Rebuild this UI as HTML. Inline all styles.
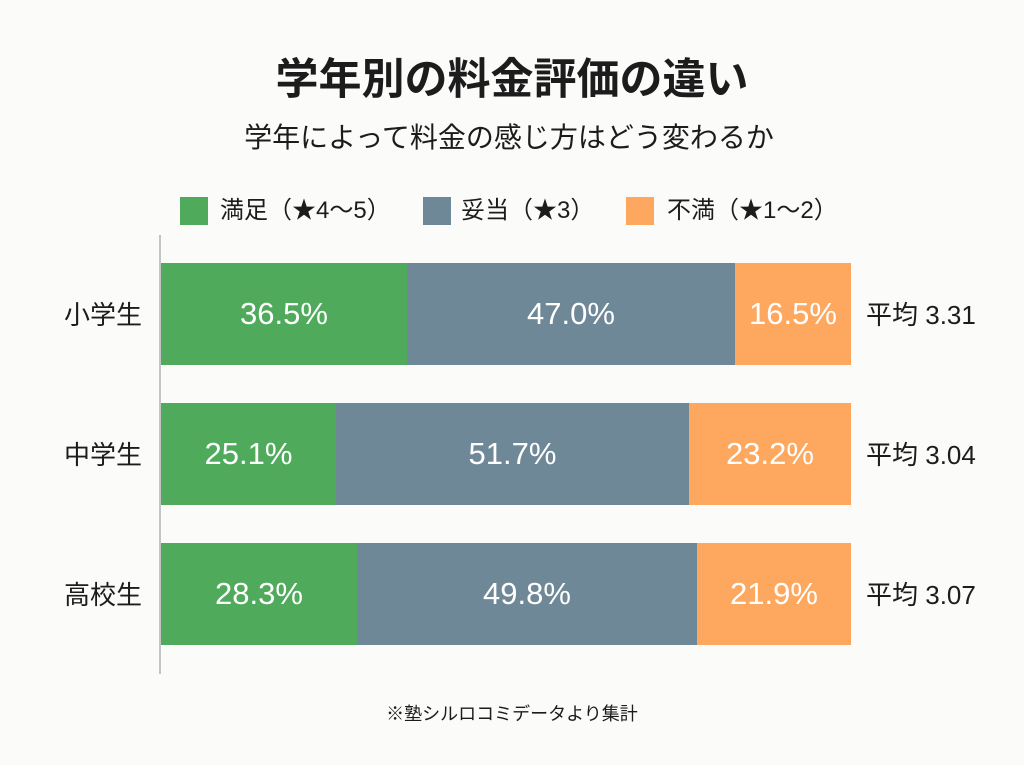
<!DOCTYPE html>
<html>
<head>
<meta charset="utf-8">
<style>
  html, body { margin:0; padding:0; }
  body {
    width:1024px; height:765px; overflow:hidden; position:relative;
    background:#fbfbfa;
    font-family:"Liberation Sans","Noto Sans CJK JP",sans-serif;
    color:#1c1c1c;
  }
  .abs { position:absolute; }
  .title {
    left:0; width:1024px; top:48px; height:56px; line-height:56px;
    text-align:center; font-size:43px; font-weight:bold;
    font-family:"Noto Sans CJK JP",sans-serif; letter-spacing:0px;
  }
  .subtitle {
    left:0; width:1018px; top:116px; height:40px; line-height:40px;
    text-align:center; font-size:28px;
    font-family:"Noto Sans CJK JP",sans-serif;
  }
  .sw { width:28px; height:28px; top:197px; }
  .lg { top:194px; height:34px; line-height:34px; font-size:24px; white-space:nowrap;
        font-family:"Liberation Sans","Noto Sans CJK JP",sans-serif; }
  .axis { left:159px; top:235px; width:2px; height:439px; background:#c4c4c4; }
  .seg { height:102px; display:flex; align-items:center; justify-content:center;
         color:#fff; font-size:31px; }
  .g { background:#4faa5b; }
  .s { background:#6f8898; }
  .o { background:#fda85e; }
  .cat { left:64px; width:90px; height:40px; line-height:40px; font-size:26px;
         font-family:"Noto Sans CJK JP",sans-serif; }
  .avg { left:866px; height:40px; line-height:40px; font-size:26px; white-space:nowrap; }
  .avg .k { font-family:"Noto Sans CJK JP",sans-serif; }
  .note { left:0; width:1024px; top:700px; height:26px; line-height:26px; text-align:center;
          font-size:18px; font-family:"Noto Sans CJK JP",sans-serif; }
</style>
</head>
<body>
  <div class="abs title">学年別の料金評価の違い</div>
  <div class="abs subtitle">学年によって料金の感じ方はどう変わるか</div>

  <div class="abs sw g" style="left:180px;"></div>
  <div class="abs lg" style="left:220px;">満足（★4～5）</div>
  <div class="abs sw s" style="left:423px;"></div>
  <div class="abs lg" style="left:461px;">妥当（★3）</div>
  <div class="abs sw o" style="left:626px;"></div>
  <div class="abs lg" style="left:667px;">不満（★1～2）</div>

  <div class="abs axis"></div>

  <!-- Row 1 -->
  <div class="abs cat" style="top:294px;">小学生</div>
  <div class="abs seg g" style="left:161px; width:246px; top:263px;">36.5%</div>
  <div class="abs seg s" style="left:407px; width:328px; top:263px;">47.0%</div>
  <div class="abs seg o" style="left:735px; width:116px; top:263px;">16.5%</div>
  <div class="abs avg" style="top:294px;"><span class="k">平均</span> 3.31</div>

  <!-- Row 2 -->
  <div class="abs cat" style="top:434px;">中学生</div>
  <div class="abs seg g" style="left:161px; width:175px; top:403px;">25.1%</div>
  <div class="abs seg s" style="left:336px; width:353px; top:403px;">51.7%</div>
  <div class="abs seg o" style="left:689px; width:162px; top:403px;">23.2%</div>
  <div class="abs avg" style="top:434px;"><span class="k">平均</span> 3.04</div>

  <!-- Row 3 -->
  <div class="abs cat" style="top:574px;">高校生</div>
  <div class="abs seg g" style="left:161px; width:196px; top:543px;">28.3%</div>
  <div class="abs seg s" style="left:357px; width:340px; top:543px;">49.8%</div>
  <div class="abs seg o" style="left:697px; width:154px; top:543px;">21.9%</div>
  <div class="abs avg" style="top:574px;"><span class="k">平均</span> 3.07</div>

  <div class="abs note">※塾シルロコミデータより集計</div>
</body>
</html>
